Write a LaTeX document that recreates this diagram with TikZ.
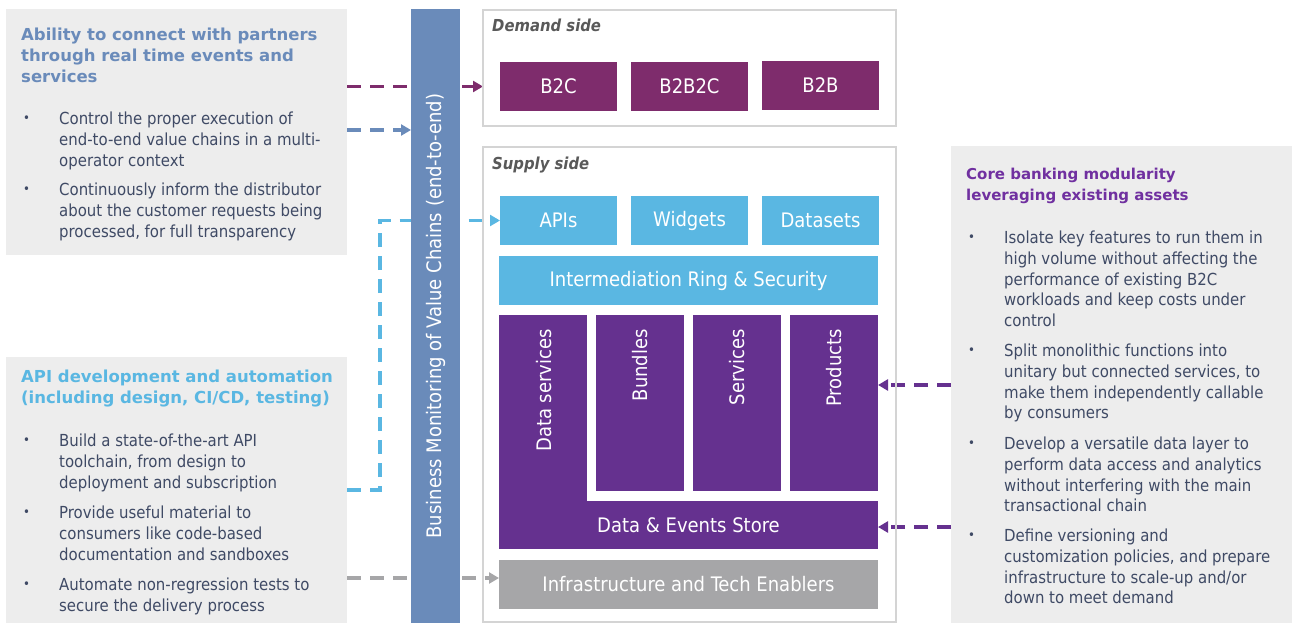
\documentclass[tikz,border=0pt]{standalone}
\usepackage{fontspec}
\setmainfont{DejaVu Sans}
\newfontfamily\condf{DejaVu Sans Condensed}
\usetikzlibrary{arrows.meta,backgrounds}
\definecolor{barblue}{HTML}{6A8BBA}
\definecolor{plum}{HTML}{7E2C6C}
\definecolor{lblue}{HTML}{5AB7E2}
\definecolor{vpurple}{HTML}{65318F}
\definecolor{infragray}{HTML}{A6A6A8}
\definecolor{panelgray}{HTML}{EDEDED}
\definecolor{framegray}{HTML}{D4D4D4}
\definecolor{tpurple}{HTML}{7030A0}
\definecolor{navy}{HTML}{3F4A65}
\definecolor{secgray}{HTML}{595959}
\definecolor{dashgray}{HTML}{A6A6A8}
\tikzset{
  rect/.style={anchor=north west, inner sep=0pt, outer sep=0pt, draw=none},
  panel/.style={rect, fill=panelgray},
  frame/.style={rect, draw=framegray, line width=2pt},
  blk/.style={rect, text=white, font=\condf\fontsize{20}{24}\selectfont},
  title/.style={anchor=north west, inner sep=0pt, align=left, font=\bfseries\fontsize{16.5}{21}\selectfont},
  para/.style={anchor=north west, inner sep=0pt, align=left, text=navy, font=\condf\fontsize{16.6}{20.6}\selectfont},
  bul/.style={anchor=west, inner sep=0pt, text=navy, font=\condf\fontsize{13}{14}\selectfont},
  sec/.style={anchor=north west, inner sep=0pt, text=secgray, font=\condf\bfseries\itshape\fontsize{16.5}{18}\selectfont},
  dline/.style={line width=3.5pt, dash pattern=on 14pt off 9pt, -{Triangle[length=10pt,width=11pt]}},
  vlabel/.style={rotate=90, anchor=east, inner sep=0pt, text=white, font=\condf\fontsize{20}{24}\selectfont}
}
\begin{document}
\begin{tikzpicture}[x=1pt,y=-1pt]
\useasboundingbox (0,0) rectangle (1292,623);
% panels
\node[panel, minimum width=341, minimum height=246] (box1) at (6,9) {};
\node[panel, minimum width=341, minimum height=266] (box2) at (6,357) {};
\node[panel, minimum width=341, minimum height=477] (box3) at (951,146) {};
% frames
\node[frame, minimum width=413, minimum height=116] (demand) at (483,10) {};
\node[frame, minimum width=413, minimum height=475] (supply) at (483,147) {};
\node[sec] (demlab) at (492,19) {Demand side};
\node[sec] (suplab) at (492,157) {Supply side};
% demand blocks
\node[blk, fill=plum, minimum width=117, minimum height=49] (b2c) at (500,62) {B2C};
\node[blk, fill=plum, minimum width=117, minimum height=49] (b2b2c) at (631,62) {B2B2C};
\node[blk, fill=plum, minimum width=117, minimum height=49] (b2b) at (762,61) {B2B};
% supply blocks
\node[blk, fill=lblue, minimum width=117, minimum height=49] (apis) at (500,196) {APIs};
\node[blk, fill=lblue, minimum width=117, minimum height=49] (widgets) at (631,196) {Widgets};
\node[blk, fill=lblue, minimum width=117, minimum height=49] (datasets) at (762,196) {Datasets};
\node[blk, fill=lblue, minimum width=379, minimum height=49] (irs) at (499,256) {Intermediation Ring \& Security};
\node[blk, fill=vpurple, minimum width=88, minimum height=234] (ds) at (499,315) {};
\node[blk, fill=vpurple, minimum width=88, minimum height=176] (bundles) at (596,315) {};
\node[blk, fill=vpurple, minimum width=88, minimum height=176] (services) at (693,315) {};
\node[blk, fill=vpurple, minimum width=88, minimum height=176] (products) at (790,315) {};
\node[blk, fill=vpurple, minimum width=379, minimum height=48] (des) at (499,501) {Data \& Events Store};
\node[blk, fill=infragray, minimum width=379, minimum height=49] (infra) at (499,560) {Infrastructure and Tech Enablers};
\node[vlabel] (dsl) at (544,329) {Data services};
\node[vlabel] (bul) at (640,329) {Bundles};
\node[vlabel] (svl) at (737,329) {Services};
\node[vlabel] (prl) at (834,329) {Products};
% bar
\node[rect, fill=barblue, minimum width=49, minimum height=614] (bar) at (411,9) {};
\node[rotate=90, inner sep=0pt, text=white, font=\condf\fontsize{20}{24}\selectfont] (barlab) at (436,316) {Business Monitoring of Value Chains (end-to-end)};
% texts box1
\node[title, text=barblue] (t1) at (21,28) {Ability to connect with partners\\through real time events and\\services};
\node[bul] (b11) at (23,119) {\textbullet};
\node[para] (p11) at (59,112) {Control the proper execution of\\end-to-end value chains in a multi-\\operator context};
\node[bul] (b12) at (23,190) {\textbullet};
\node[para] (p12) at (59,183) {Continuously inform the distributor\\about the customer requests being\\processed, for full transparency};
% texts box2
\node[title, text=lblue] (t2) at (21,370) {API development and automation\\(including design, CI/CD, testing)};
\node[bul] (b21) at (23,441) {\textbullet};
\node[para] (p21) at (59,434) {Build a state-of-the-art API\\toolchain, from design to\\deployment and subscription};
\node[bul] (b22) at (23,513) {\textbullet};
\node[para] (p22) at (59,506) {Provide useful material to\\consumers like code-based\\documentation and sandboxes};
\node[bul] (b23) at (23,585) {\textbullet};
\node[para] (p23) at (59,578) {Automate non-regression tests to\\secure the delivery process};
% texts box3
\node[title, text=tpurple, font=\bfseries\fontsize{15}{21}\selectfont] (t3) at (966,168) {Core banking modularity\\leveraging existing assets};
\node[bul] (b31) at (968,238) {\textbullet};
\node[para] (p31) at (1004,231) {Isolate key features to run them in\\high volume without affecting the\\performance of existing B2C\\workloads and keep costs under\\control};
\node[bul] (b32) at (968,351) {\textbullet};
\node[para] (p32) at (1004,344) {Split monolithic functions into\\unitary but connected services, to\\make them independently callable\\by consumers};
\node[bul] (b33) at (968,444) {\textbullet};
\node[para] (p33) at (1004,437) {Develop a versatile data layer to\\perform data access and analytics\\without interfering with the main\\transactional chain};
\node[bul] (b34) at (968,536) {\textbullet};
\node[para] (p34) at (1004,529) {Define versioning and\\customization policies, and prepare\\infrastructure to scale-up and/or\\down to meet demand};
% connectors
\coordinate (yblue) at (0,130);
\coordinate (ygray) at (0,578);
\coordinate (lbturn) at (380,490);
\coordinate (yr1) at (0,385);
\coordinate (yr2) at (0,527);
\begin{pgfonlayer}{background}
\draw[dline, plum] (box1.east |- b2c.west) -- (demand.west |- b2c.west);
\draw[dline, barblue] (box1.east |- yblue) -- (bar.west |- yblue);
\draw[dline, lblue] (box2.east |- lbturn) -- (lbturn) |- (apis.west);
\draw[dline, dashgray] (box2.east |- ygray) -- (infra.west |- ygray);
\draw[dline, vpurple] (box3.west |- yr1) -- (products.east |- yr1);
\draw[dline, vpurple] (box3.west |- yr2) -- (des.east |- yr2);
\end{pgfonlayer}
\end{tikzpicture}
\end{document}
